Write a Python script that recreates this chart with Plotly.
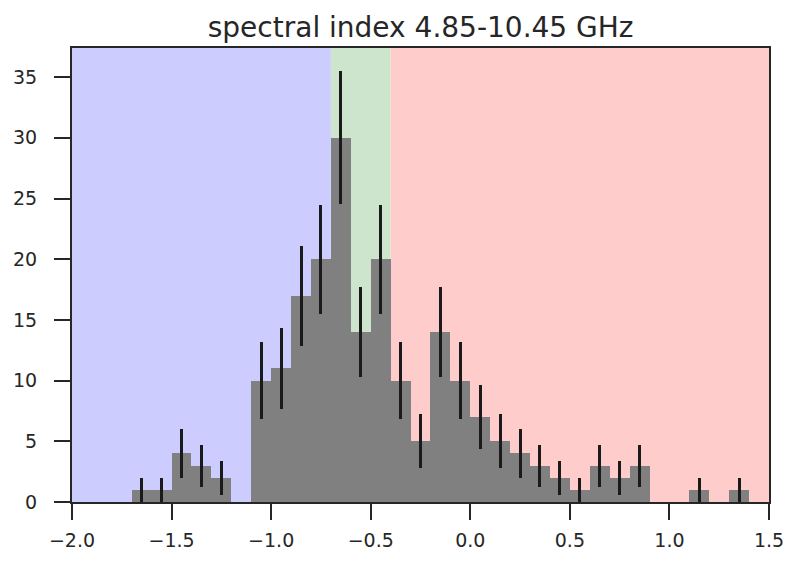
import numpy as np
import plotly.graph_objects as go

bin_left = [round(-2.0 + 0.1 * i, 2) for i in range(35)]
counts = [0, 0, 0, 1, 1, 4, 3, 2, 0, 10, 11, 17, 20, 30, 14, 20, 10, 5, 14, 10,
          7, 5, 4, 3, 2, 1, 3, 2, 3, 0, 0, 1, 0, 1, 0]
bin_width = 0.1
errors = [np.sqrt(c) for c in counts]

regions = [(-2.0, -0.7, "rgb(204,204,255)"),
           (-0.7, -0.4, "rgb(204,229,204)"),
           (-0.4, 1.5, "rgb(255,204,204)")]

x_ticks = [-2.0, -1.5, -1.0, -0.5, 0.0, 0.5, 1.0, 1.5]
y_ticks = [0, 5, 10, 15, 20, 25, 30, 35]


def fmt(v, dec):
    s = f"{abs(v):.{dec}f}"
    return ("\u2212" + s) if v < 0 else s


centers = [b + bin_width / 2 for b in bin_left]

fig = go.Figure()
fig.add_trace(go.Bar(
    x=centers, y=counts, width=[bin_width] * len(counts),
    marker=dict(color="rgb(128,128,128)", line=dict(width=0)),
    error_y=dict(type="data", array=errors, visible=True,
                 color="#1a1a1a", thickness=3, width=0),
    showlegend=False, hoverinfo="skip",
))

for x0, x1, col in regions:
    fig.add_shape(type="rect", xref="x", yref="paper", x0=x0, x1=x1, y0=0, y1=1,
                  fillcolor=col, line=dict(width=0), layer="below")

axis_common = dict(
    showgrid=False, zeroline=False, showline=True, mirror=True,
    linecolor="#262626", linewidth=2.2,
    ticks="outside", ticklen=16, tickwidth=2, tickcolor="#262626",
    tickfont=dict(family="DejaVu Sans", size=19, color="#262626"),
)

fig.update_layout(
    width=802, height=570,
    margin=dict(l=72, r=33, t=48, b=68),
    paper_bgcolor="white", plot_bgcolor="white",
    bargap=0,
    title=dict(text="spectral index 4.85-10.45 GHz", x=0.5245, xanchor="center",
               y=1 - 27 / 570, yanchor="middle",
               font=dict(family="DejaVu Sans", size=28, color="#262626")),
    xaxis=dict(range=[-2.0, 1.5], tickvals=x_ticks,
               ticktext=[fmt(v, 1) for v in x_ticks], ticklabelstandoff=4,
               **axis_common),
    yaxis=dict(range=[0, 37.4], tickvals=y_ticks,
               ticktext=[fmt(v, 0) for v in y_ticks], ticklabelstandoff=13,
               **axis_common),
)

fig.write_html("out.html")
